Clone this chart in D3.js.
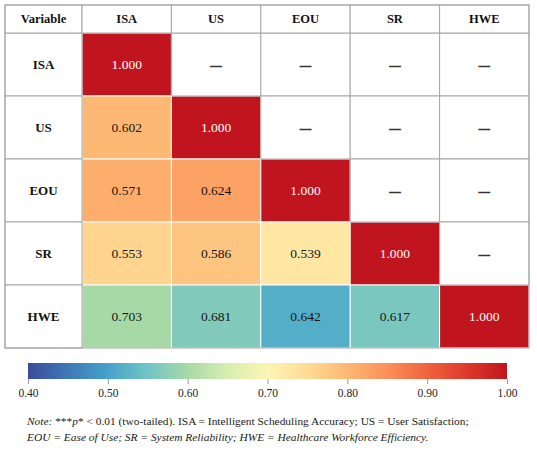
<!DOCTYPE html>
<html>
<head>
<meta charset="utf-8">
<script src="https://cdn.jsdelivr.net/npm/d3@7"></script>
<style>
  html, body { margin: 0; padding: 0; background: #fff; }
  svg { display: block; }
  text { font-family: "Liberation Serif", "Times New Roman", serif; }
</style>
</head>
<body>
<svg id="chart" width="537" height="456"></svg>
<script>
// ---------------- data ----------------
const variables = ["ISA", "US", "EOU", "SR", "HWE"];
const cornerLabel = "Variable";
// lower-triangular correlation matrix (null = upper triangle, shown as dash)
const correlations = [
  [1.000, null,  null,  null,  null],
  [0.602, 1.000, null,  null,  null],
  [0.571, 0.624, 1.000, null,  null],
  [0.553, 0.586, 0.539, 1.000, null],
  [0.703, 0.681, 0.642, 0.617, 1.000]
];
// position on the colour bar of each cell's shading
const shadeValues = [
  [1.000, null,  null,  null,  null],
  [0.800, 1.000, null,  null,  null],
  [0.812, 0.828, 1.000, null,  null],
  [0.760, 0.782, 0.727, 1.000, null],
  [0.600, 0.564, 0.518, 0.558, 1.000]
];
const colorDomain = [0.40, 1.00];
const colorTicks = [0.40, 0.50, 0.60, 0.70, 0.80, 0.90, 1.00];
const colorStops = [0.40, 0.45, 0.50, 0.55, 0.60, 0.65, 0.70, 0.75, 0.80, 0.85, 0.90, 0.95, 1.00];
const colorStopColors = ["#3b4a9c", "#3f78b7", "#45a2cb", "#72c4c4", "#a7d9a6", "#d8eeb0",
                         "#fcf5b4", "#fedb95", "#fdb873", "#fb9058", "#f0633f", "#dc3a2c", "#c0141e"];
const noteLine1 = [
  { t: "Note:", i: true }, { t: " ***", i: false }, { t: "p", i: true },
  { t: "* < 0.01 (two-tailed). ISA = Intelligent Scheduling Accuracy; US = User Satisfaction;", i: false }
];
const noteLine2 = [
  { t: "EOU = Ease of Use; SR = System Reliability; HWE = Healthcare Workforce Efficiency.", i: true }
];

// ---------------- layout ----------------
const svg = d3.select("#chart");
const tableLeft = 5, labelColRight = 82, tableRight = 529;
const tableTop = 5, headerBottom = 33, tableBottom = 348;

const x = d3.scaleBand().domain(variables).range([labelColRight, tableRight]);
const y = d3.scaleBand().domain(variables).range([headerBottom, tableBottom]);

const color = d3.scaleLinear().domain(colorStops).range(colorStopColors).interpolate(d3.interpolateRgb).clamp(true);

const cells = [];
variables.forEach((rv, i) => {
  variables.forEach((cv, j) => {
    cells.push({ row: rv, col: cv, value: correlations[i][j], shade: shadeValues[i][j] });
  });
});
const colored = cells.filter(d => d.value !== null);
const blank = cells.filter(d => d.value === null);

const grid = "#a6a6a6";
const g = svg.append("g");

// coloured cells
g.selectAll("rect.colored").data(colored).join("rect")
  .attr("class", "colored")
  .attr("x", d => x(d.col)).attr("y", d => y(d.row))
  .attr("width", x.bandwidth()).attr("height", y.bandwidth())
  .attr("fill", d => color(d.shade))
  .attr("stroke", "#ffffff").attr("stroke-width", 1);

// blank (upper triangle) cells
g.selectAll("rect.blank").data(blank).join("rect")
  .attr("class", "blank")
  .attr("x", d => x(d.col)).attr("y", d => y(d.row))
  .attr("width", x.bandwidth()).attr("height", y.bandwidth())
  .attr("fill", "#ffffff")
  .attr("stroke", grid).attr("stroke-width", 1);

// row label cells
g.selectAll("rect.rowlab").data(variables).join("rect")
  .attr("x", tableLeft).attr("y", d => y(d))
  .attr("width", labelColRight - tableLeft).attr("height", y.bandwidth())
  .attr("fill", "#ffffff").attr("stroke", grid);

// header cells
g.append("rect").attr("x", tableLeft).attr("y", tableTop)
  .attr("width", labelColRight - tableLeft).attr("height", headerBottom - tableTop)
  .attr("fill", "#fff").attr("stroke", grid);
g.selectAll("rect.head").data(variables).join("rect")
  .attr("x", d => x(d)).attr("y", tableTop)
  .attr("width", x.bandwidth()).attr("height", headerBottom - tableTop)
  .attr("fill", "#fff").attr("stroke", grid);

// outer border
g.append("rect").attr("x", tableLeft).attr("y", tableTop)
  .attr("width", tableRight - tableLeft).attr("height", tableBottom - tableTop)
  .attr("fill", "none").attr("stroke", grid);

// header texts
const headerY = (tableTop + headerBottom) / 2;
g.append("text").attr("x", (tableLeft + labelColRight) / 2).attr("y", headerY)
  .attr("text-anchor", "middle").attr("dominant-baseline", "central")
  .attr("font-size", 12.5).attr("font-weight", "bold").attr("fill", "#111")
  .text(cornerLabel);
g.selectAll("text.head").data(variables).join("text")
  .attr("x", d => x(d) + x.bandwidth() / 2).attr("y", headerY)
  .attr("text-anchor", "middle").attr("dominant-baseline", "central")
  .attr("font-size", 12.5).attr("font-weight", "bold").attr("fill", "#111")
  .text(d => d);

// row labels
g.selectAll("text.rowlab").data(variables).join("text")
  .attr("x", (tableLeft + labelColRight) / 2).attr("y", d => y(d) + y.bandwidth() / 2)
  .attr("text-anchor", "middle").attr("dominant-baseline", "central")
  .attr("font-size", 13).attr("font-weight", "bold").attr("fill", "#111")
  .text(d => d);

// values
g.selectAll("text.val").data(colored).join("text")
  .attr("x", d => x(d.col) + x.bandwidth() / 2).attr("y", d => y(d.row) + y.bandwidth() / 2)
  .attr("text-anchor", "middle").attr("dominant-baseline", "central")
  .attr("font-size", 13.5)
  .attr("fill", d => d.value >= 0.999 ? "#ffffff" : "#161616")
  .text(d => d3.format(".3f")(d.value));

// dashes
g.selectAll("text.dash").data(blank).join("text")
  .attr("x", d => x(d.col) + x.bandwidth() / 2).attr("y", d => y(d.row) + y.bandwidth() / 2)
  .attr("text-anchor", "middle").attr("dominant-baseline", "central")
  .attr("font-size", 11).attr("font-weight", "bold").attr("fill", "#333")
  .attr("stroke", "#333").attr("stroke-width", 0.7)
  .text("\u2014");

// ---------------- colour bar ----------------
const cbLeft = 28, cbRight = 507, cbTop = 363, cbBottom = 379;
const cbX = d3.scaleLinear().domain(colorDomain).range([cbLeft, cbRight]);

const defs = svg.append("defs");
const grad = defs.append("linearGradient").attr("id", "cbgrad")
  .attr("x1", "0%").attr("x2", "100%").attr("y1", "0%").attr("y2", "0%");
grad.selectAll("stop").data(d3.range(0, 61).map(k => colorDomain[0] + k * (colorDomain[1] - colorDomain[0]) / 60))
  .join("stop")
  .attr("offset", d => ((d - colorDomain[0]) / (colorDomain[1] - colorDomain[0]) * 100) + "%")
  .attr("stop-color", d => color(d));

svg.append("rect").attr("x", cbLeft).attr("y", cbTop)
  .attr("width", cbRight - cbLeft).attr("height", cbBottom - cbTop)
  .attr("fill", "url(#cbgrad)");

const axis = d3.axisBottom(cbX).tickValues(colorTicks).tickFormat(d3.format(".2f")).tickSize(5).tickPadding(5);
const ax = svg.append("g").attr("transform", `translate(0,${cbBottom})`).call(axis);
ax.select(".domain").remove();
ax.selectAll(".tick line").attr("stroke", "#999");
ax.selectAll(".tick text").attr("font-size", 11.5).attr("fill", "#222")
  .attr("font-family", "\"Liberation Serif\", \"Times New Roman\", serif");

// ---------------- note ----------------
function noteLine(parts, yPos) {
  const t = svg.append("text").attr("x", 27).attr("y", yPos)
    .attr("font-size", 11.4).attr("fill", "#1a1a1a");
  t.selectAll("tspan").data(parts).join("tspan")
    .attr("font-style", d => d.i ? "italic" : "normal")
    .text(d => d.t);
}
noteLine(noteLine1, 425);
noteLine(noteLine2, 441);
</script>
</body>
</html>
